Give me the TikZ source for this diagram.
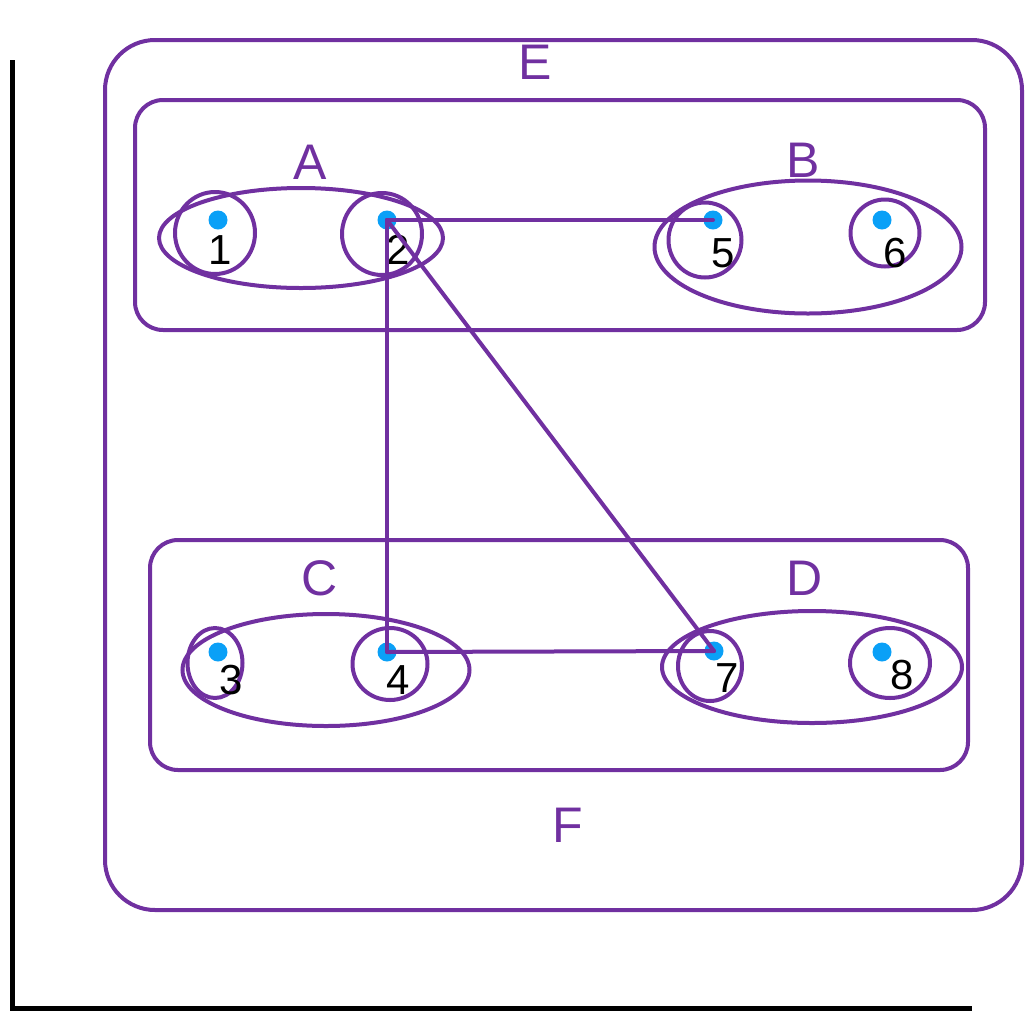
\documentclass[tikz,border=0pt]{standalone}
\usepackage{fontspec}
\setmainfont{Liberation Sans}
\usetikzlibrary{shapes.geometric}
\definecolor{pen}{HTML}{7030A0}
\definecolor{dotblue}{HTML}{0AA0F7}
\tikzset{
  group/.style={
    rectangle,
    rounded corners=28pt,
    draw=pen,
    line width=4pt,
    inner sep=0pt
  },
  cluster/.style={
    ellipse,
    draw=pen,
    line width=4pt,
    inner sep=0pt
  },
  ring/.style={
    cluster
  },
  vertex/.style={
    circle,
    fill=dotblue,
    inner sep=0pt,
    minimum size=19pt
  },
  num/.style={
    font=\fontsize{42}{48}\selectfont,
    text=black,
    inner sep=0pt
  },
  setname/.style={
    font=\fontsize{50}{56}\selectfont,
    text=pen,
    inner sep=0pt
  },
  link/.style={
    draw=pen,
    line width=4pt,
    line cap=round
  },
  axis/.style={
    draw=black,
    line width=5pt
  }
}
\begin{document}
\begin{tikzpicture}[x=1pt,y=-1pt]
  \useasboundingbox (0,0) rectangle (1026,1013);

  % axes
  \coordinate (top) at (12,60);
  \coordinate (origin) at (12,1008);
  \coordinate (end) at (972,1008);
  \draw[axis] (top) -- (origin) -- (end);

  % groups
  \node[group, minimum width=917pt, minimum height=870pt, rounded corners=50pt] (E) at (563.5,475) {};
  \node[group, minimum width=850pt, minimum height=230pt] (top) at (560,215) {};
  \node[group, minimum width=818pt, minimum height=230pt] (bottom) at (559,655) {};
  \node[setname] (lE) at (535,62) {E};
  \node[setname] (lF) at (568,825) {F};

  % clusters
  \node[cluster, minimum width=284pt, minimum height=100pt] (A) at (301,238) {};
  \node[cluster, minimum width=307pt, minimum height=133pt] (B) at (808,247) {};
  \node[cluster, minimum width=287pt, minimum height=112pt] (C) at (326,670) {};
  \node[cluster, minimum width=300pt, minimum height=112pt] (D) at (812,667) {};
  \node[setname] (lA) at (310,162) {A};
  \node[setname] (lB) at (803,160) {B};
  \node[setname] (lC) at (320,578) {C};
  \node[setname] (lD) at (805,578) {D};

  % rings round the points
  \node[ring, minimum width=80pt, minimum height=82pt] (r1) at (215,233) {};
  \node[ring, minimum width=80pt, minimum height=82pt] (r2) at (382,234) {};
  \node[ring, minimum width=73pt, minimum height=75pt] (r5) at (705,240) {};
  \node[ring, minimum width=69pt, minimum height=67pt] (r6) at (885,233) {};
  \node[ring, minimum width=55pt, minimum height=70pt] (r3) at (215,663) {};
  \node[ring, minimum width=75pt, minimum height=72pt] (r4) at (390,664) {};
  \node[ring, minimum width=64pt, minimum height=70pt] (r7) at (710,666) {};
  \node[ring, minimum width=80pt, minimum height=70pt] (r8) at (890,663) {};

  % points
  \node[vertex] (v1) at (218,220) {};
  \node[vertex] (v2) at (387,220) {};
  \node[vertex] (v5) at (713,220) {};
  \node[vertex] (v6) at (882,220) {};
  \node[vertex] (v3) at (218,652) {};
  \node[vertex] (v4) at (387,652) {};
  \node[vertex] (v7) at (714,651) {};
  \node[vertex] (v8) at (882,652) {};
  \node[num] (n1) at (220,250) {1};
  \node[num] (n2) at (398,250) {2};
  \node[num] (n5) at (723,253) {5};
  \node[num] (n6) at (895,253) {6};
  \node[num] (n3) at (231,680) {3};
  \node[num] (n4) at (398,680) {4};
  \node[num] (n7) at (727,678) {7};
  \node[num] (n8) at (902,675) {8};

  % edges
  \draw[link] (v2.center) -- (v5.center);
  \draw[link] (v2.center) -- (v4.center);
  \draw[link] (v2.center) -- (v7.center);
  \draw[link] (v4.center) -- (v7.center);
\end{tikzpicture}
\end{document}
